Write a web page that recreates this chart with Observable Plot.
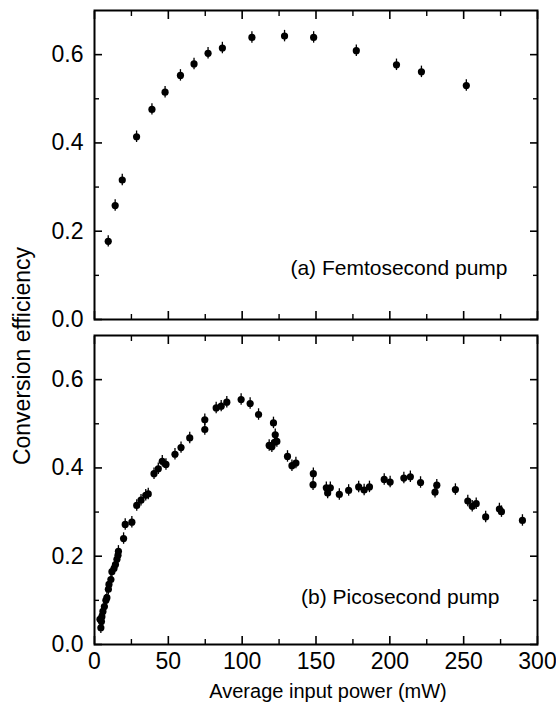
<!DOCTYPE html>
<html>
<head>
<meta charset="utf-8">
<script src="https://cdn.jsdelivr.net/npm/d3@7"></script>
<script src="https://cdn.jsdelivr.net/npm/@observablehq/plot@0.6"></script>
<style>
  html, body { margin: 0; padding: 0; background: #fff; }
  #chart { width: 556px; height: 712px; }
</style>
</head>
<body>
<div id="chart"></div>
<script>
// ---- Data ----
const panels = ["a", "b"];
const panelLabels = ["(a) Femtosecond pump", "(b) Picosecond pump"];

// (a) Femtosecond pump
const femtoPower = [9.3, 14.0, 18.8, 28.5, 38.9, 47.8, 58.2, 67.4, 76.9, 86.6, 106.6, 128.7, 148.4, 177.3, 204.5, 221.4, 251.8];
const femtoEff   = [0.177, 0.258, 0.316, 0.414, 0.476, 0.515, 0.553, 0.579, 0.603, 0.615, 0.639, 0.642, 0.639, 0.609, 0.577, 0.561, 0.530];

// (b) Picosecond pump
const picoPower = [4.3, 3.7, 5.0, 4.7, 5.7, 6.7, 7.7, 8.4, 9.4, 9.8, 11.1, 11.8, 13.2, 14.2, 15.2, 15.9, 16.2, 19.7, 20.8, 25.3,
  28.6, 31.5, 34.7, 36.4, 40.3, 43.2, 45.9, 48.4, 54.5, 58.6, 64.5, 74.7, 74.7, 82.4, 85.8, 89.6, 99.3, 105.4, 111.1, 121.2,
  122.4, 123.5, 121.9, 118.3, 120.1, 130.7, 133.7, 136.4, 148.2, 148.0, 157.0, 157.9, 159.7, 165.8, 172.1, 178.9, 182.6, 186.2,
  196.2, 200.2, 209.5, 213.9, 220.8, 230.6, 231.8, 244.4, 252.8, 255.8, 258.5, 264.9, 274.2, 275.6, 289.8];
const picoEff = [0.038, 0.057, 0.063, 0.052, 0.075, 0.086, 0.100, 0.106, 0.125, 0.136, 0.147, 0.165, 0.172, 0.181, 0.193, 0.202, 0.211, 0.240, 0.272, 0.277,
  0.315, 0.327, 0.338, 0.341, 0.387, 0.398, 0.415, 0.408, 0.431, 0.446, 0.468, 0.487, 0.509, 0.536, 0.540, 0.549, 0.555, 0.546, 0.521, 0.502,
  0.475, 0.460, 0.458, 0.451, 0.448, 0.426, 0.405, 0.411, 0.387, 0.362, 0.355, 0.343, 0.355, 0.340, 0.349, 0.357, 0.350, 0.357,
  0.374, 0.368, 0.377, 0.380, 0.367, 0.345, 0.361, 0.351, 0.325, 0.313, 0.319, 0.289, 0.307, 0.301, 0.281];

const errorHalf = 0.013; // half-length of the error bars

const xMajorTicks = [0, 50, 100, 150, 200, 250, 300];
const xMinorTicks = [25, 75, 125, 175, 225, 275];
const yMajorTicks = [0, 0.2, 0.4, 0.6];
const yMinorTicks = [0.1, 0.3, 0.5];

const xTitle = "Average input power (mW)";
const yTitle = "Conversion efficiency";

// ---- Build table ----
const rows = [
  ...femtoPower.map((p, i) => ({panel: panels[0], power: p, eff: femtoEff[i]})),
  ...picoPower.map((p, i) => ({panel: panels[1], power: p, eff: picoEff[i]}))
];
const annotations = panels.map((p, i) => ({panel: p, text: panelLabels[i]}));

const font = "'Liberation Sans', Arial, Helvetica, sans-serif";

const tickAxes = [];
for (const anchor of ["top", "bottom"]) {
  tickAxes.push(Plot.axisX({ticks: xMajorTicks, anchor, tickSize: -8, fill: "none", facetAnchor: null, strokeWidth: 1.6, label: null}));
  tickAxes.push(Plot.axisX({ticks: xMinorTicks, anchor, tickSize: -5, fill: "none", facetAnchor: null, strokeWidth: 1.4, label: null}));
}
for (const anchor of ["left", "right"]) {
  tickAxes.push(Plot.axisY({ticks: yMajorTicks, anchor, tickSize: -8, fill: "none", facetAnchor: null, strokeWidth: 1.6, label: null}));
  tickAxes.push(Plot.axisY({ticks: yMinorTicks, anchor, tickSize: -5, fill: "none", facetAnchor: null, strokeWidth: 1.4, label: null}));
}

const chart = Plot.plot({
  width: 556,
  height: 712,
  marginLeft: 94,
  marginRight: 19,
  marginTop: 9,
  marginBottom: 67,
  style: {fontFamily: font, fontSize: "21px", color: "#000", background: "#fff"},
  x: {domain: [0, 300]},
  y: {domain: [0, 0.7]},
  fy: {domain: panels, paddingInner: 0.049, paddingOuter: 0, axis: null, label: null},
  marks: [
    Plot.frame({strokeWidth: 2}),
    ...tickAxes,
    Plot.axisX({ticks: xMajorTicks, anchor: "bottom", tickSize: 0, tickPadding: 8, stroke: "none", label: null, fontSize: 23}),
    Plot.axisY({ticks: yMajorTicks, anchor: "left", tickSize: 0, tickPadding: 11, stroke: "none", label: null, facetAnchor: null, tickFormat: d3.format(".1f"), fontSize: 23}),
    Plot.ruleX(rows, {x: "power", y1: d => d.eff - errorHalf, y2: d => d.eff + errorHalf, fy: "panel", stroke: "#000", strokeWidth: 1.3}),
    Plot.dot(rows, {x: "power", y: "eff", fy: "panel", r: 3.6, fill: "#000", stroke: "none"}),
    Plot.text(annotations.slice(0, 1), {fy: "panel", text: "text", frameAnchor: "bottom-right", textAnchor: "end", lineAnchor: "bottom", dx: -30, dy: -45, fontSize: 21}),
    Plot.text(annotations.slice(1), {fy: "panel", text: "text", frameAnchor: "bottom-right", textAnchor: "end", lineAnchor: "bottom", dx: -38, dy: -41, fontSize: 21})
  ]
});

const svg = d3.select(chart);
// make sure the tick labels get their size regardless of Plot's defaults
svg.selectAll("text").each(function () {
  const g = this.closest("g[aria-label]");
  const lab = g ? g.getAttribute("aria-label") : "";
  if (lab && lab.includes("axis")) this.style.fontSize = "23px";
});
svg.append("text")
  .attr("x", 328).attr("y", 698)
  .attr("text-anchor", "middle")
  .attr("font-family", font).style("font-size", "20px").attr("fill", "#000")
  .text(xTitle);
svg.append("text")
  .attr("transform", "translate(30,356) rotate(-90)")
  .attr("text-anchor", "middle")
  .attr("font-family", font).style("font-size", "23px").attr("fill", "#000")
  .text(yTitle);

document.getElementById("chart").appendChild(chart);
</script>
</body>
</html>
